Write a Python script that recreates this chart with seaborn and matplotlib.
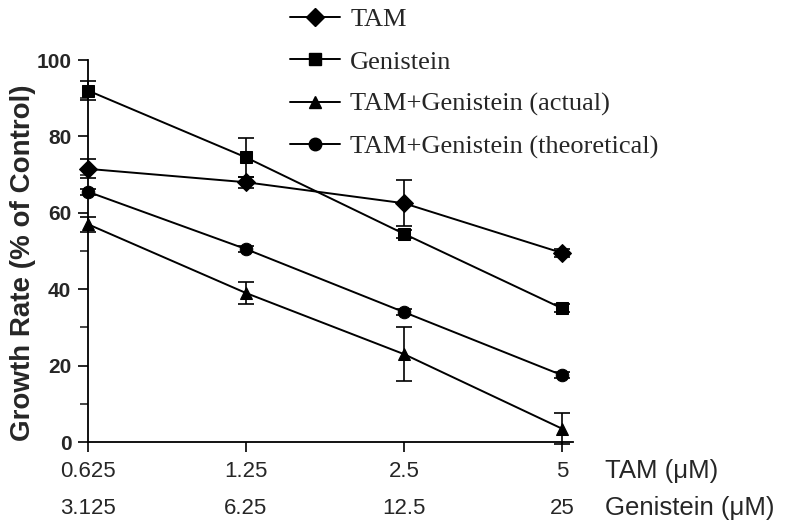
import matplotlib
matplotlib.use("Agg")
import matplotlib.pyplot as plt
import seaborn as sns
import pandas as pd
from matplotlib.lines import Line2D

tam_doses = ["0.625", "1.25", "2.5", "5"]
gen_doses = ["3.125", "6.25", "12.5", "25"]
series_names = ["TAM", "Genistein", "TAM+Genistein (actual)", "TAM+Genistein (theoretical)"]
tam_vals = [71.5, 68.0, 62.5, 49.5]
tam_err = [2.5, 1.5, 6.0, 1.0]
gen_vals = [92.0, 74.5, 54.5, 35.0]
gen_err = [2.5, 5.0, 1.0, 1.0]
act_vals = [57.0, 39.0, 23.0, 3.5]
act_err = [2.0, 3.0, 7.0, 4.0]
theo_vals = [65.5, 50.5, 34.0, 17.5]
theo_err = [0.8, 0.8, 0.8, 0.8]

vals = [tam_vals, gen_vals, act_vals, theo_vals]
errs = [tam_err, gen_err, act_err, theo_err]
markers = ["D", "s", "^", "o"]

rows = []
for name, v in zip(series_names, vals):
    for i, y in enumerate(v):
        rows.append({"pos": i, "value": y, "series": name})
df = pd.DataFrame(rows)

sns.set_style("ticks")
serif = ["Liberation Serif", "DejaVu Serif"]
sans = ["Liberation Sans", "DejaVu Sans"]
fig = plt.figure(figsize=(7.85, 5.25), dpi=100)
ax = fig.add_axes([88/785, 1-442/525, (573-88)/785, (442-60)/525])

sns.lineplot(data=df, x="pos", y="value", hue="series", style="series",
             palette=["black"]*4, markers=dict(zip(series_names, markers)),
             dashes=False, markersize=9, linewidth=1.4, ax=ax, legend=False,
             markeredgecolor="black")
for v, e in zip(vals, errs):
    ax.errorbar(range(len(v)), v, yerr=e, fmt="none", ecolor="black",
                elinewidth=1.2, capsize=6, capthick=1.2, clip_on=False)
for ln in ax.lines:
    ln.set_clip_on(False)

ax.set_xlim(0, 3.07)
ax.set_ylim(0, 100)
ax.set_yticks([0, 20, 40, 60, 80, 100])
ax.set_yticks([10, 30, 50, 70, 90], minor=True)
ax.set_xticks(range(4))
ax.set_xticklabels([f"{a}\n{b}" for a, b in zip(tam_doses, gen_doses)],
                   fontsize=16, family=sans, linespacing=1.98)
for t in ax.get_yticklabels():
    t.set_family(sans)
    t.set_fontweight("bold")
    t.set_fontsize(15)
ax.tick_params(axis="both", which="major", direction="out", length=7, width=1.2, color="black")
ax.tick_params(axis="y", which="minor", direction="out", length=6, width=1.2)
ax.tick_params(axis="x", pad=7)
ax.tick_params(axis="y", pad=5)
ax.set_xlabel("")
ax.set_ylabel("Growth Rate (% of Control)", family=sans, fontweight="bold", fontsize=20)
ax.yaxis.set_label_coords(-0.107, 0.47)
sns.despine(ax=ax)
for s in ["left", "bottom"]:
    ax.spines[s].set_linewidth(1.3)
    ax.spines[s].set_color("black")

fig.text(605/785, 1-471/525, "TAM (\u03bcM)", fontsize=18.5, family=sans, va="center", ha="left")
fig.text(605/785, 1-508/525, "Genistein (\u03bcM)", fontsize=18.5, family=sans, va="center", ha="left")

handles = [Line2D([], [], color="black", marker=m, markersize=9, linewidth=1.4) for m in markers]
fig.legend(handles, series_names, loc="upper left", bbox_to_anchor=(290/785, 1-8/525),
           frameon=False, prop={"family": serif, "size": 19}, handlelength=1.9,
           handletextpad=0.38, labelspacing=0.71, borderpad=0, borderaxespad=0)

fig.savefig("out.png", dpi=100)
